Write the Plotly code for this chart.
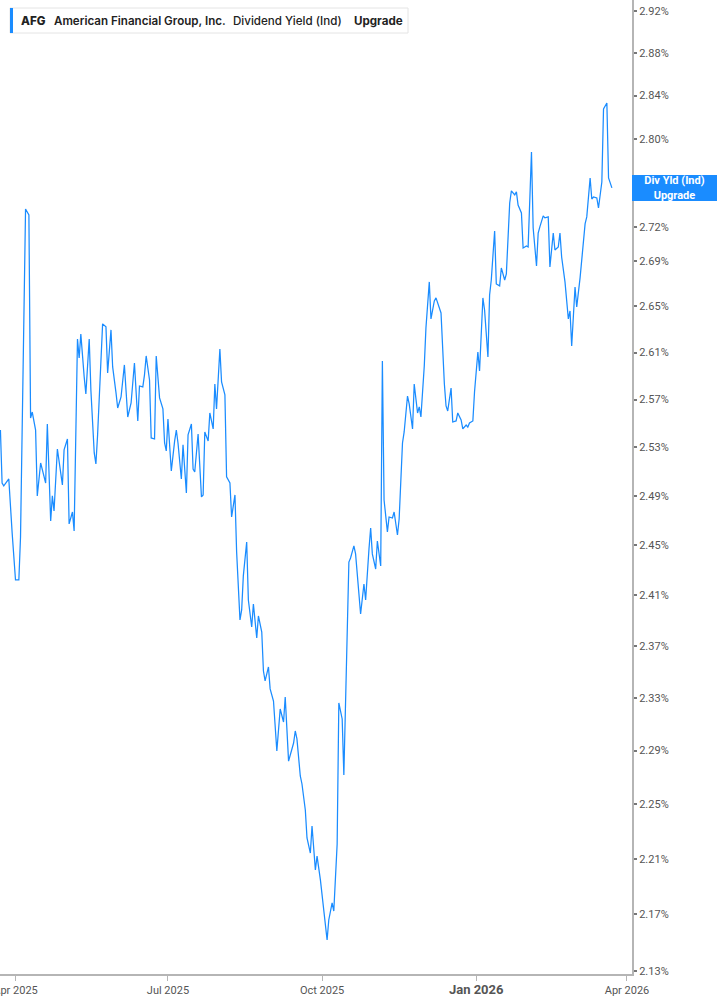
import math
import plotly.graph_objects as go

# AFG dividend yield (ind), values in %
dates = [
    '2025-03-23', '2025-03-24', '2025-03-25', '2025-03-28', '2025-03-30', '2025-04-01', '2025-04-03', '2025-04-04',
    '2025-04-07', '2025-04-09', '2025-04-10', '2025-04-11', '2025-04-13', '2025-04-14', '2025-04-16', '2025-04-17',
    '2025-04-19', '2025-04-20', '2025-04-22', '2025-04-23', '2025-04-24', '2025-04-26', '2025-04-29', '2025-04-30',
    '2025-05-02', '2025-05-03', '2025-05-05', '2025-05-06', '2025-05-08', '2025-05-09', '2025-05-10', '2025-05-12',
    '2025-05-13', '2025-05-15', '2025-05-16', '2025-05-18', '2025-05-19', '2025-05-20', '2025-05-22', '2025-05-23',
    '2025-05-25', '2025-05-26', '2025-05-28', '2025-05-29', '2025-05-31', '2025-06-01', '2025-06-03', '2025-06-05',
    '2025-06-07', '2025-06-09', '2025-06-11', '2025-06-13', '2025-06-14', '2025-06-16', '2025-06-17', '2025-06-18',
    '2025-06-20', '2025-06-21', '2025-06-23', '2025-06-24', '2025-06-26', '2025-06-28', '2025-06-29', '2025-06-30',
    '2025-07-01', '2025-07-03', '2025-07-05', '2025-07-06', '2025-07-07', '2025-07-09', '2025-07-10', '2025-07-12',
    '2025-07-13', '2025-07-15', '2025-07-16', '2025-07-17', '2025-07-19', '2025-07-21', '2025-07-22', '2025-07-23',
    '2025-07-25', '2025-07-26', '2025-07-28', '2025-07-29', '2025-07-30', '2025-08-01', '2025-08-02', '2025-08-04',
    '2025-08-05', '2025-08-07', '2025-08-08', '2025-08-10', '2025-08-11', '2025-08-13', '2025-08-14', '2025-08-15',
    '2025-08-17', '2025-08-18', '2025-08-20', '2025-08-21', '2025-08-23', '2025-08-24', '2025-08-26', '2025-08-27',
    '2025-08-28', '2025-08-30', '2025-08-31', '2025-09-02', '2025-09-04', '2025-09-05', '2025-09-06', '2025-09-08',
    '2025-09-09', '2025-09-11', '2025-09-12', '2025-09-14', '2025-09-15', '2025-09-16', '2025-09-18', '2025-09-19',
    '2025-09-21', '2025-09-22', '2025-09-24', '2025-09-25', '2025-09-27', '2025-09-28', '2025-09-30', '2025-10-01',
    '2025-10-02', '2025-10-04', '2025-10-05', '2025-10-07', '2025-10-08', '2025-10-10', '2025-10-11', '2025-10-13',
    '2025-10-14', '2025-10-15', '2025-10-17', '2025-10-18', '2025-10-20', '2025-10-21', '2025-10-23', '2025-10-24',
    '2025-10-26', '2025-10-27', '2025-10-29', '2025-10-30', '2025-10-31', '2025-11-02', '2025-11-03', '2025-11-05',
    '2025-11-06', '2025-11-07', '2025-11-09', '2025-11-10', '2025-11-12', '2025-11-13', '2025-11-15', '2025-11-16',
    '2025-11-18', '2025-11-19', '2025-11-21', '2025-11-22', '2025-11-24', '2025-11-25', '2025-11-27', '2025-11-28',
    '2025-11-29', '2025-12-01', '2025-12-02', '2025-12-04', '2025-12-05', '2025-12-07', '2025-12-08', '2025-12-10',
    '2025-12-11', '2025-12-13', '2025-12-14', '2025-12-15', '2025-12-17', '2025-12-18', '2025-12-20', '2025-12-21',
    '2025-12-23', '2025-12-24', '2025-12-26', '2025-12-27', '2025-12-28', '2025-12-30', '2025-12-31', '2026-01-02',
    '2026-01-03', '2026-01-05', '2026-01-06', '2026-01-08', '2026-01-09', '2026-01-10', '2026-01-12', '2026-01-13',
    '2026-01-15', '2026-01-16', '2026-01-18', '2026-01-19', '2026-01-21', '2026-01-22', '2026-01-24', '2026-01-25',
    '2026-01-26', '2026-01-28', '2026-01-29', '2026-01-31', '2026-02-01', '2026-02-03', '2026-02-04', '2026-02-06',
    '2026-02-07', '2026-02-08', '2026-02-10', '2026-02-11', '2026-02-13', '2026-02-14', '2026-02-16', '2026-02-17',
    '2026-02-19', '2026-02-20', '2026-02-21', '2026-02-23', '2026-02-25', '2026-02-26', '2026-02-27', '2026-03-01',
    '2026-03-02', '2026-03-04', '2026-03-05', '2026-03-07', '2026-03-08', '2026-03-10', '2026-03-11', '2026-03-12',
    '2026-03-14', '2026-03-15', '2026-03-17', '2026-03-18', '2026-03-20', '2026-03-21', '2026-03-23',
]
div_yield = [
    2.5444, 2.5005, 2.4981, 2.5038, 2.4598, 2.4221, 2.4221, 2.4565,
    2.7361, 2.7308, 2.5545, 2.5595, 2.5444, 2.4899, 2.5170, 2.5120,
    2.5005, 2.5494, 2.4695, 2.4899, 2.4776, 2.5286, 2.4989, 2.5278,
    2.5369, 2.4671, 2.4768, 2.4614, 2.6217, 2.6054, 2.6260, 2.5892,
    2.5747, 2.6217, 2.5781, 2.5253, 2.5162, 2.5403, 2.6054, 2.6347,
    2.6321, 2.5925, 2.6295, 2.5977, 2.5756, 2.5629, 2.5722, 2.5994,
    2.5553, 2.5671, 2.6011, 2.5520, 2.5815, 2.5807, 2.5909, 2.6071,
    2.5866, 2.5378, 2.5369, 2.6071, 2.5714, 2.5621, 2.5336, 2.5270,
    2.5536, 2.5104, 2.5353, 2.5444, 2.5336, 2.5038, 2.5320, 2.4923,
    2.5403, 2.5494, 2.5120, 2.5096, 2.5411, 2.4891, 2.4907, 2.5428,
    2.5353, 2.5587, 2.5453, 2.5832, 2.5621, 2.6131, 2.5849, 2.5739,
    2.5055, 2.5005, 2.4727, 2.4907, 2.4445, 2.3904, 2.3983, 2.4253,
    2.4525, 2.4062, 2.3849, 2.4030, 2.3764, 2.3936, 2.3810, 2.3507,
    2.3430, 2.3538, 2.3369, 2.3276, 2.2897, 2.3063, 2.3215, 2.3116,
    2.3307, 2.2821, 2.2867, 2.2957, 2.3048, 2.2988, 2.2710, 2.2650,
    2.2457, 2.2252, 2.2142, 2.2340, 2.2019, 2.2120, 2.1947, 2.1846,
    2.1753, 2.1518, 2.1660, 2.1782, 2.1724, 2.2208, 2.3261, 2.3139,
    2.2717, 2.3315, 2.4364, 2.4396, 2.4493, 2.4429, 2.4149, 2.3951,
    2.4189, 2.4062, 2.4469, 2.4638, 2.4429, 2.4308, 2.4533, 2.4332,
    2.6028, 2.4866, 2.4606, 2.4727, 2.4719, 2.4768, 2.4581, 2.4711,
    2.5336, 2.5428, 2.5730, 2.5663, 2.5453, 2.5832, 2.5587, 2.5638,
    2.5553, 2.5985, 2.6312, 2.6713, 2.6390, 2.6546, 2.6573, 2.6494,
    2.6442, 2.5832, 2.5646, 2.5604, 2.5798, 2.5511, 2.5520, 2.5587,
    2.5528, 2.5453, 2.5486, 2.5469, 2.5503, 2.5520, 2.5764, 2.6105,
    2.5943, 2.6573, 2.6468, 2.6062, 2.6599, 2.6730, 2.7164, 2.6695,
    2.6678, 2.6836, 2.6730, 2.6783, 2.7415, 2.7524, 2.7488, 2.7515,
    2.7397, 2.7325, 2.7013, 2.7031, 2.7022, 2.7879, 2.7191, 2.6854,
    2.7146, 2.7200, 2.7299, 2.7281, 2.7290, 2.6845, 2.7146, 2.6995,
    2.7022, 2.7146, 2.6933, 2.6713, 2.6390, 2.6459, 2.6157, 2.6669,
    2.6494, 2.6748, 2.6889, 2.7227, 2.7290, 2.7641, 2.7451, 2.7469,
    2.7460, 2.7370, 2.7605, 2.8276, 2.8331, 2.7641, 2.7551,
]

y_ticks = [2.13, 2.17, 2.21, 2.25, 2.29, 2.33, 2.37, 2.41, 2.45, 2.49, 2.53,
           2.57, 2.61, 2.65, 2.69, 2.72, 2.76, 2.80, 2.84, 2.88, 2.92]
x_ticks = ['2025-04-01', '2025-07-01', '2025-10-01', '2026-01-01', '2026-04-01']
x_labels = ['Apr 2025', 'Jul 2025', 'Oct 2025',
            '<span style="font-size:13px"><b>Jan 2026</b></span>', 'Apr 2026']

BLUE = '#1a8cff'
GREY = '#b5b5b5'
PLOT_W, PLOT_H = 632, 974   # plot area in px (margins below)


def px_x(x):
    return x / PLOT_W


def px_y(y):
    return 1 - y / PLOT_H


# the 2.76% label sits under the last-value tag, so it is left blank
y_labels = ['' if v == 2.76 else '%.2f%%' % v for v in y_ticks]

fig = go.Figure()
fig.add_trace(go.Scatter(
    x=dates, y=div_yield, mode='lines',
    line=dict(color=BLUE, width=1.25),
    hoverinfo='skip', showlegend=False,
))

fig.update_layout(
    width=717, height=1005,
    margin=dict(l=0, r=85, t=0, b=31, autoexpand=False),
    paper_bgcolor='white', plot_bgcolor='white',
    font=dict(family='Roboto', color='#555'),
    xaxis=dict(
        type='date', range=['2025-03-22 18:00', '2026-04-04'],
        tickvals=x_ticks, ticktext=x_labels, tickangle=0,
        automargin=False, ticklabeloverflow='allow',
        showgrid=False, zeroline=False,
        showline=True, linecolor=GREY, linewidth=2,
        ticks='outside', ticklen=5, tickcolor=GREY, tickwidth=1,
        tickfont=dict(size=11, color='#555'),
    ),
    yaxis=dict(
        type='log', side='right',
        range=[math.log10(2.1279), math.log10(2.9306)],
        tickvals=y_ticks, ticktext=y_labels,
        automargin=False, ticklabeloverflow='allow',
        showgrid=False, zeroline=False,
        showline=True, linecolor=GREY, linewidth=2,
        ticks='outside', ticklen=3, tickcolor='#777', tickwidth=1.5,
        tickfont=dict(size=11, color='#555'),
    ),
)

# legend-style header box, top left
fig.add_shape(type='rect', xref='paper', yref='paper',
              x0=px_x(10), x1=px_x(408), y0=px_y(33), y1=px_y(8),
              line=dict(color='#e4e4e4', width=1), fillcolor='white')
fig.add_shape(type='rect', xref='paper', yref='paper',
              x0=px_x(10), x1=px_x(13), y0=px_y(33), y1=px_y(8),
              line=dict(width=0), fillcolor=BLUE)
header = [
    ('AFG', 20, 800),
    ('American Financial Group, Inc.', 53, 600),
    ('Dividend Yield (Ind)', 232, 500),
    ('Upgrade', 353, 700),
]
for text, left, weight in header:
    fig.add_annotation(text=text, xref='paper', yref='paper',
                       x=px_x(left), y=px_y(20.5), xanchor='left', yanchor='middle',
                       showarrow=False, xshift=-1,
                       font=dict(family='Inter', size=11.6, color='#222', weight=weight))

# last value tag on the right axis
fig.add_annotation(
    text='<b>Div Yld (Ind)</b><br><b>Upgrade</b>',
    xref='paper', yref='y', x=1, y=math.log10(div_yield[-1]),
    xanchor='left', yanchor='middle', showarrow=False,
    width=85, height=26, borderpad=0, borderwidth=0,
    bgcolor=BLUE, align='center',
    font=dict(family='Roboto', size=11, color='white'),
)

# page body has an 8px default margin; drop it so the chart fills the window
fig.write_html('out.html', config={'displayModeBar': False},
               post_script="document.body.style.margin = '0';")
